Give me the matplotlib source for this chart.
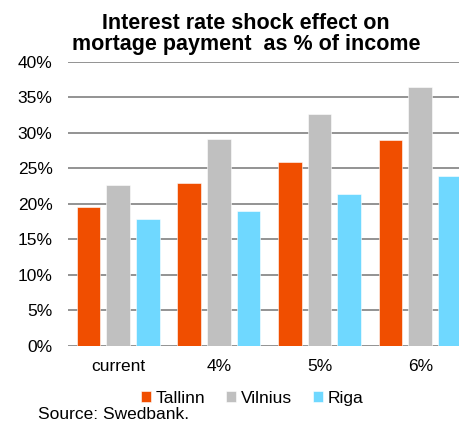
import matplotlib
matplotlib.use("Agg")
import matplotlib.pyplot as plt
import numpy as np

plt.rcParams['font.family'] = ['Liberation Sans', 'DejaVu Sans']

categories = ["current", "4%", "5%", "6%"]
series_names = ["Tallinn", "Vilnius", "Riga"]
tallinn = [19.5, 23.0, 25.9, 29.0]
vilnius = [22.6, 29.1, 32.7, 36.5]
riga = [17.9, 19.0, 21.4, 23.9]
yticks = [0, 5, 10, 15, 20, 25, 30, 35, 40]
ytick_labels = ["0%", "5%", "10%", "15%", "20%", "25%", "30%", "35%", "40%"]
colors = ["#F04E00", "#C0C0C0", "#6FD8FF"]

W, H = 460, 423
fig = plt.figure(figsize=(W / 100, H / 100), dpi=100)
ax = fig.add_axes([67.85 / W, (H - 346) / H, 402.8 / W, (346 - 61.7) / H])

x = np.arange(len(categories))
width = 0.235
step = 0.295
for i, (vals, name, c) in enumerate(zip([tallinn, vilnius, riga], series_names, colors)):
    ax.bar(x + (i - 1) * step, vals, width, color=c, label=name, zorder=3,
           edgecolor="white", linewidth=0.4)

ax.set_xlim(-0.5, 3.5)
ax.set_ylim(0, 40)
ax.set_yticks(yticks)
ax.set_yticklabels(ytick_labels)
ax.set_xticks(x)
ax.set_xticklabels(categories)
ax.grid(axis="y", color="#8A8A8A", linewidth=1.3, zorder=0)
ax.set_axisbelow(True)
for s in ax.spines.values():
    s.set_visible(False)
ax.tick_params(axis="both", length=0, labelsize=12.5, colors="#000000")
ax.tick_params(axis="y", pad=11)
ax.tick_params(axis="x", pad=9)

fig.text(246 / W, 1 - 34 / H, "Interest rate shock effect on\nmortage payment  as % of income",
         ha="center", va="center", fontsize=15.5, fontweight="bold", linespacing=1.0)

fig.legend(loc="center", bbox_to_anchor=(252 / W, 1 - 398 / H), ncol=3, frameon=False,
           fontsize=12.5, handlelength=0.6, handleheight=0.6, handletextpad=0.25,
           columnspacing=1.2, borderaxespad=0)

fig.text(38 / W, 1 - 414 / H, "Source: Swedbank.", ha="left", va="center", fontsize=12.5)

fig.savefig("out.png", dpi=100)
